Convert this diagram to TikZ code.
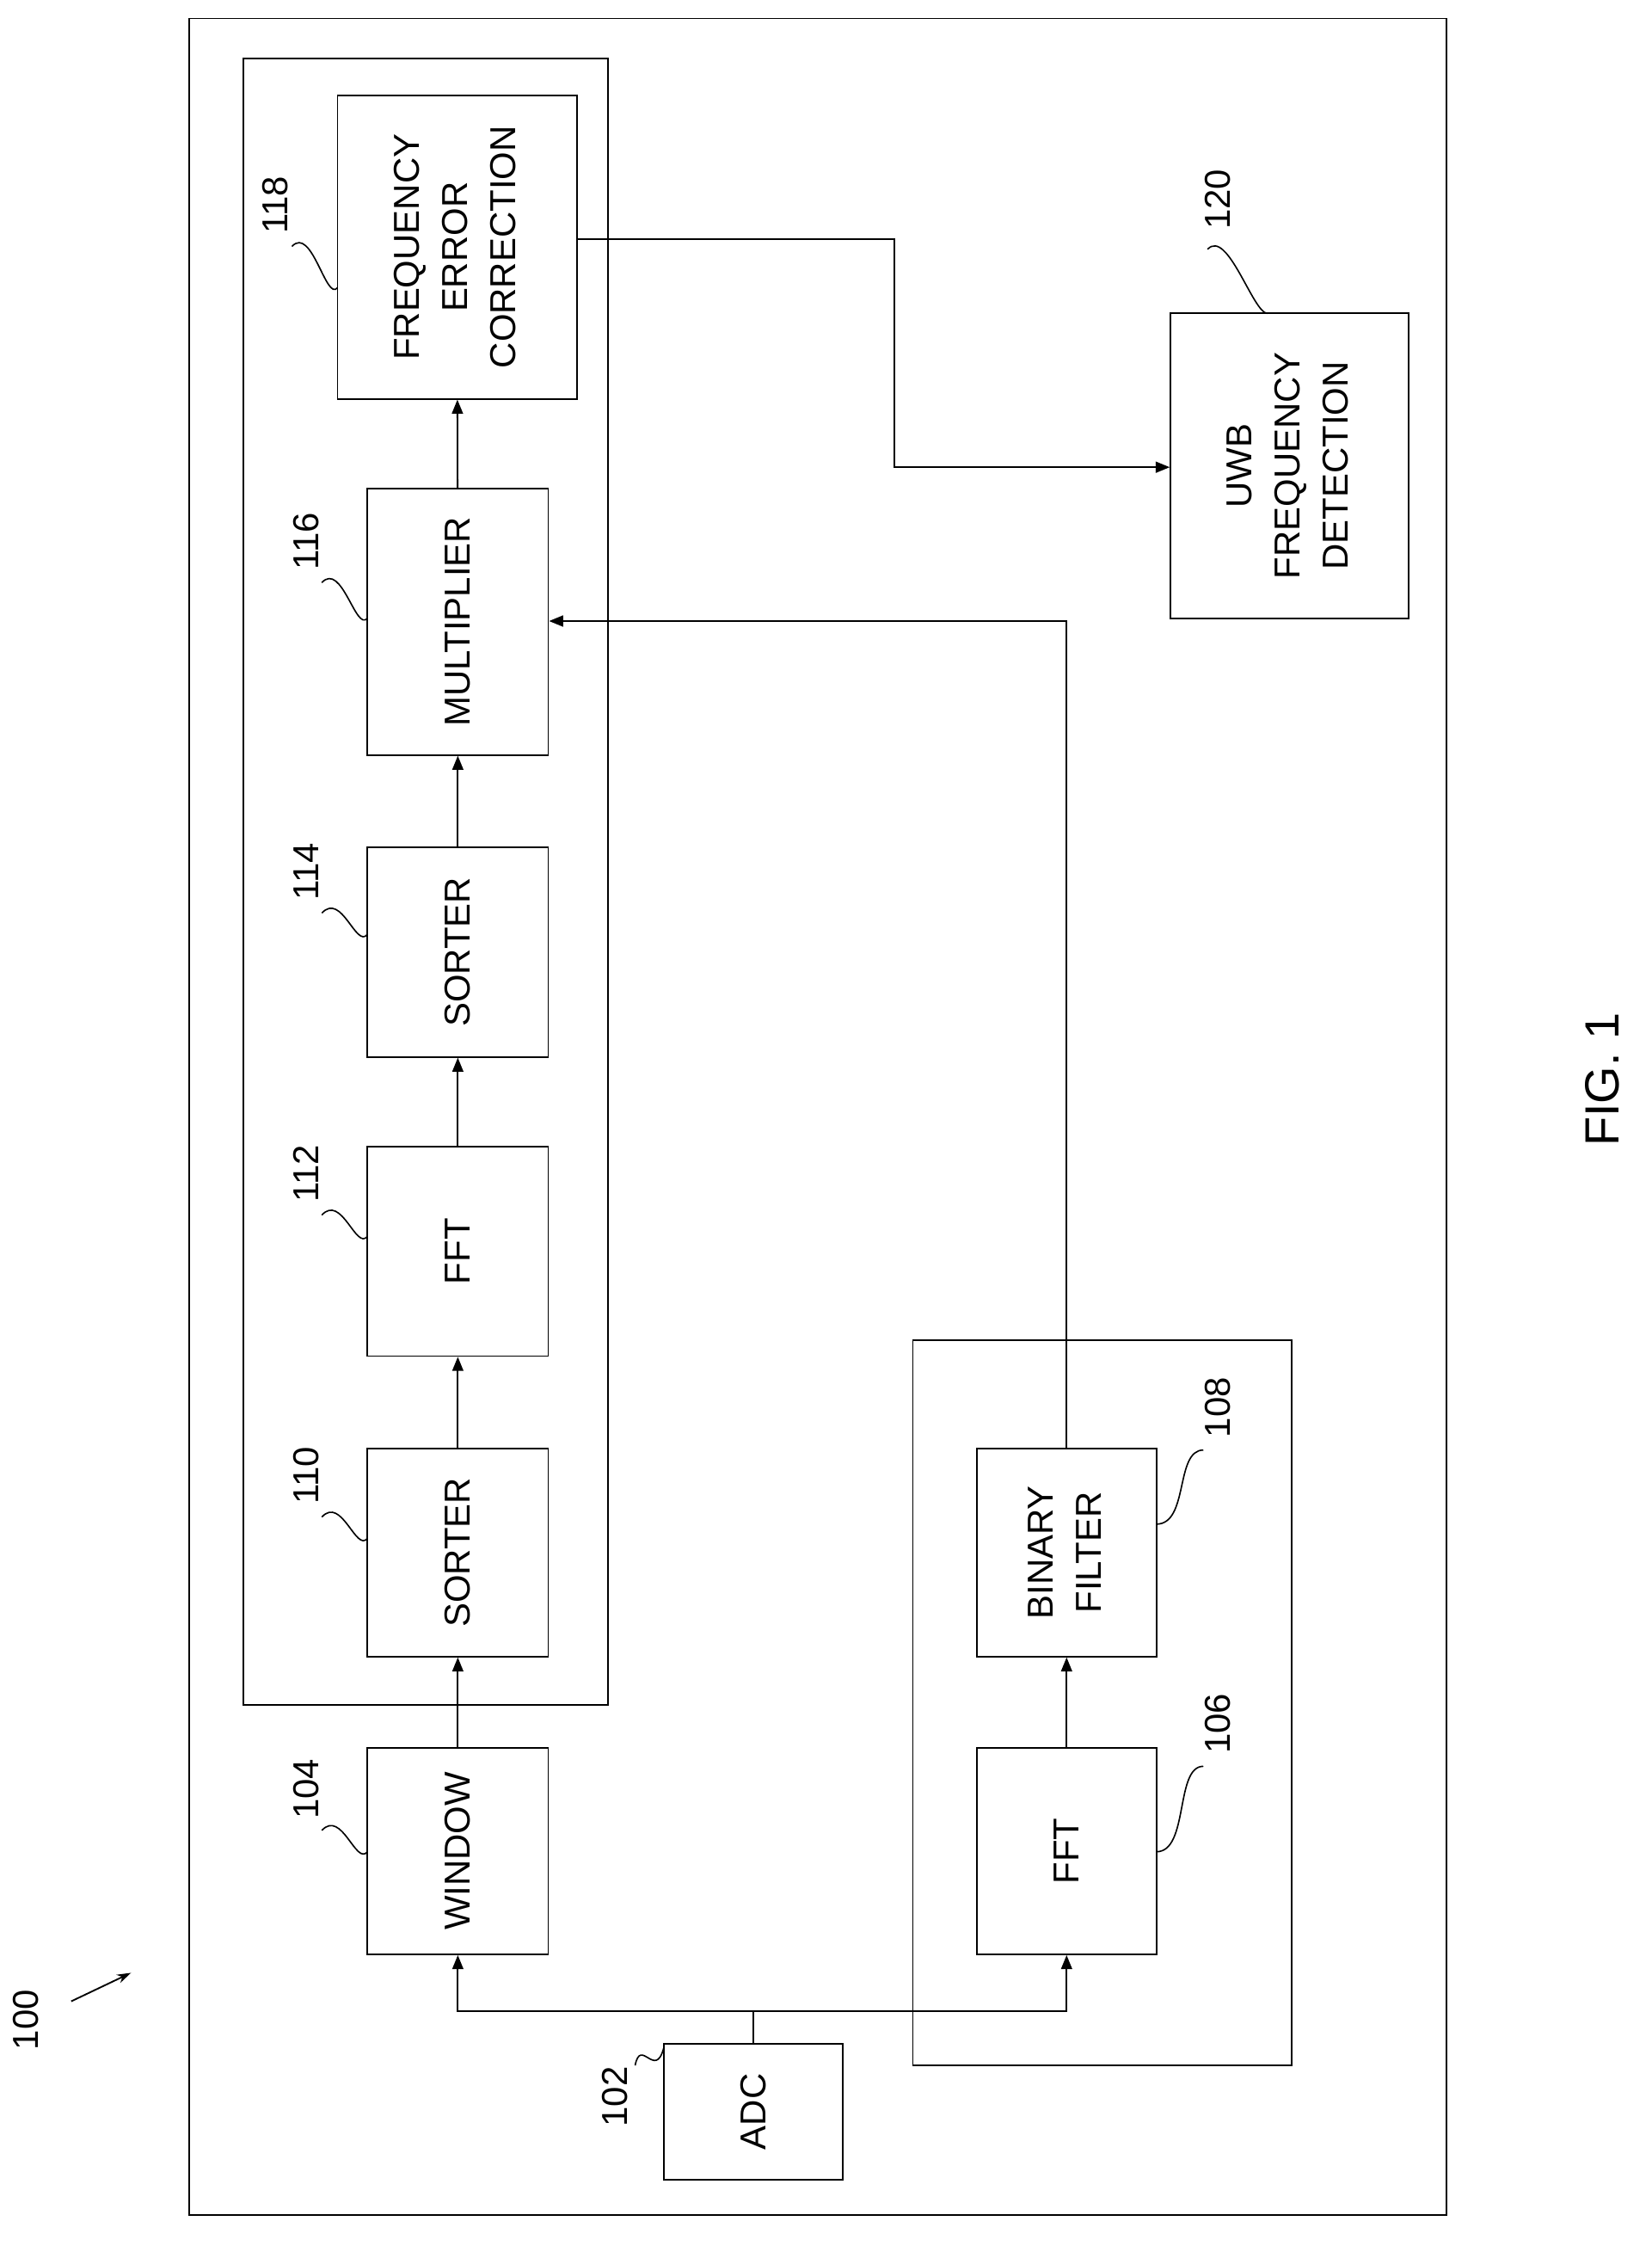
\documentclass[tikz,border=0pt]{standalone}
\usepackage{fontspec}
\setmainfont{Liberation Sans}
\usetikzlibrary{fit,arrows.meta}
\begin{document}
\begin{tikzpicture}[x=0.05cm,y=-0.05cm,line width=1.6pt,
    box/.style={draw,inner sep=0pt},
    txt/.style={font=\fontsize{36}{52}\selectfont},
    num/.style={font=\fontsize{36}{40}\selectfont,rotate=90},
    flow/.style={-{Triangle[length=14pt,width=11pt]}},
    squig/.style={line width=1.4pt}]
    \useasboundingbox (0,0) rectangle (1160,1581);
    % frames
    \draw (133,13) rectangle (1016,1555);
    \draw (171,41) rectangle (427,1197);
    \draw (641,941) rectangle (907,1450);
    % blocks
    \node[box,fit={(237,67) (405,280)}] (fec) {};
    \node[box,fit={(258,343) (385,530)}] (mult) {};
    \node[box,fit={(258,595) (385,742)}] (sortb) {};
    \node[box,fit={(258,805) (385,952)}] (ffta) {};
    \node[box,fit={(258,1017) (385,1163)}] (sorta) {};
    \node[box,fit={(258,1227) (385,1372)}] (win) {};
    \node[box,fit={(466,1435) (592,1530)}] (adc) {};
    \node[box,fit={(686,1227) (812,1372)}] (fftb) {};
    \node[box,fit={(686,1017) (812,1163)}] (bin) {};
    \node[box,fit={(822,220) (989,434)}] (uwb) {};
    % block texts
    \node[txt] at (fec) {\rotatebox{90}{\begin{tabular}{@{}c@{}}FREQUENCY\\[-4pt]ERROR\\[-4pt]CORRECTION\end{tabular}}};
    \node[txt] at (mult) {\rotatebox{90}{MULTIPLIER}};
    \node[txt] at (sortb) {\rotatebox{90}{SORTER}};
    \node[txt] at (ffta) {\rotatebox{90}{FFT}};
    \node[txt] at (sorta) {\rotatebox{90}{SORTER}};
    \node[txt] at (win) {\rotatebox{90}{WINDOW}};
    \node[txt] at (adc) {\rotatebox{90}{ADC}};
    \node[txt] at (fftb) {\rotatebox{90}{FFT}};
    \node[txt] at (bin) {\rotatebox{90}{\begin{tabular}{@{}c@{}}BINARY\\[-4pt]FILTER\end{tabular}}};
    \node[txt] at (uwb) {\rotatebox{90}{\begin{tabular}{@{}c@{}}UWB\\[-4pt]FREQUENCY\\[-4pt]DETECTION\end{tabular}}};
    % connectors
    \coordinate (split) at (adc.north |- 0,1412);
    \draw (adc.north) -- (split);
    \draw[flow] (split) -| (win.south);
    \draw[flow] (split) -| (fftb.south);
    \draw[flow] (win) -- (sorta);
    \draw[flow] (sorta) -- (ffta);
    \draw[flow] (ffta) -- (sortb);
    \draw[flow] (sortb) -- (mult);
    \draw[flow] (mult) -- (fec);
    \draw[flow] (fftb) -- (bin);
    \draw[flow] (bin.north) |- (mult.east |- 0,436);
    \draw[flow] (fec.east |- 0,168) -| (628,328) -- (uwb.west |- 0,328);
    % reference numerals
    \node[num] (n100) at (18,1418) {100};
    \draw[-{Stealth[length=14pt,width=9pt]}] (50,1405) -- (92,1385);
    \node[num] (n102) at (432,1472) {102};
    \draw[squig] (446,1450) .. controls (450,1430) and (460,1460) .. (466,1438);
    \node[num] (n104) at (215,1256) {104};
    \draw[squig] (226,1285) .. controls (240,1270) and (250,1310) .. (258,1300);
    \node[num] (n110) at (215,1036) {110};
    \draw[squig] (226,1065) .. controls (240,1050) and (250,1090) .. (258,1080);
    \node[num] (n112) at (215,824) {112};
    \draw[squig] (226,853) .. controls (240,838) and (250,878) .. (258,868);
    \node[num] (n114) at (215,612) {114};
    \draw[squig] (226,641) .. controls (240,626) and (250,666) .. (258,656);
    \node[num] (n116) at (215,380) {116};
    \draw[squig] (226,409) .. controls (240,394) and (250,444) .. (258,434);
    \node[num] (n118) at (193,144) {118};
    \draw[squig] (205,173) .. controls (219,158) and (229,212) .. (237,202);
    \node[num] (n106) at (855,1210) {106};
    \draw[squig] (812,1300) .. controls (835,1300) and (825,1240) .. (845,1240);
    \node[num] (n108) at (855,988) {108};
    \draw[squig] (812,1070) .. controls (835,1070) and (825,1018) .. (845,1018);
    \node[num] (n120) at (855,140) {120};
    \draw[squig] (848,175) .. controls (862,160) and (880,220) .. (890,220);
    % figure caption
    \node[font=\fontsize{48}{52}\selectfont,rotate=90] at (1125,758) {FIG. 1};
\end{tikzpicture}
\end{document}
